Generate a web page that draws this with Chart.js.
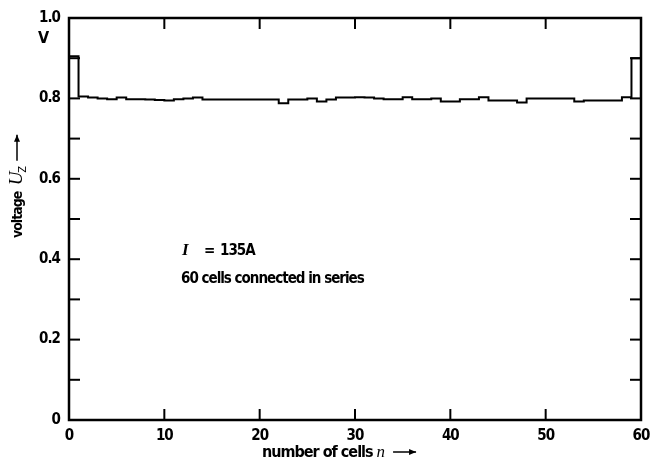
<!DOCTYPE html>
<html><head><meta charset="utf-8">
<script src="https://cdn.jsdelivr.net/npm/chart.js@4/dist/chart.umd.min.js"></script>
<style>html,body{margin:0;padding:0;background:#fff}</style>
</head><body>
<canvas id="c" width="650" height="462"></canvas>
<script>
// ---- data ----
const cellIndex = [0,1,2,3,4,5,6,7,8,9,10,11,12,13,14,15,16,17,18,19,20,21,22,23,24,25,26,27,28,29,
                   30,31,32,33,34,35,36,37,38,39,40,41,42,43,44,45,46,47,48,49,50,51,52,53,54,55,56,57,58,59];
const cellVoltage = [0.905,0.805,0.802,0.800,0.798,0.802,0.798,0.798,0.797,0.796,
                     0.795,0.798,0.800,0.802,0.797,0.797,0.797,0.797,0.797,0.797,
                     0.797,0.797,0.788,0.797,0.797,0.800,0.792,0.797,0.802,0.802,
                     0.803,0.802,0.800,0.798,0.798,0.803,0.798,0.798,0.800,0.792,
                     0.792,0.798,0.798,0.803,0.795,0.795,0.795,0.790,0.800,0.800,
                     0.800,0.800,0.800,0.792,0.795,0.795,0.795,0.795,0.803,0.900];
const xTickValues = [0,10,20,30,40,50,60];
const yTickLabels = ['0','','0.2','','0.4','','0.6','','0.8','','1.0'];
const yUnit = 'V';
const currentLabel = ['I', '=', '135A'];
const noteLabel = '60 cells connected in series';
const xTitle = ['number of cells ', 'n'];
const yTitle = ['voltage ', 'U', 'Z'];

const FONT = '"Liberation Sans Narrow", "DejaVu Sans Condensed", "Liberation Sans", sans-serif';
const SPACING = '-1px';

const points = cellIndex.map((n, i) => ({x: n, y: cellVoltage[i]}));
points.push({x: cellIndex[cellIndex.length - 1] + 1, y: cellVoltage[cellVoltage.length - 1]});

function arrow(ctx, x1, y1, x2, y2) {
  ctx.beginPath(); ctx.moveTo(x1, y1); ctx.lineTo(x2, y2); ctx.stroke();
  const a = Math.atan2(y2 - y1, x2 - x1), L = 7, W = 3;
  ctx.beginPath();
  ctx.moveTo(x2, y2);
  ctx.lineTo(x2 - L*Math.cos(a) + W*Math.sin(a), y2 - L*Math.sin(a) - W*Math.cos(a));
  ctx.lineTo(x2 - L*Math.cos(a) - W*Math.sin(a), y2 - L*Math.sin(a) + W*Math.cos(a));
  ctx.closePath(); ctx.fill();
}

const spacing = {
  id: 'spacing',
  beforeInit(chart) { chart.ctx.letterSpacing = SPACING; },
  beforeUpdate(chart) { chart.ctx.letterSpacing = SPACING; },
  beforeDraw(chart) { chart.ctx.letterSpacing = SPACING; }
};

const decor = {
  id: 'decor',
  afterDraw(chart) {
    const {ctx, chartArea: a, scales: {x, y}} = chart;
    ctx.save();
    ctx.letterSpacing = SPACING;
    ctx.strokeStyle = '#000'; ctx.fillStyle = '#000';
    ctx.lineWidth = 2.5;
    ctx.strokeRect(a.left, a.top, a.right - a.left, a.bottom - a.top);
    ctx.lineWidth = 2;
    const T = 11;
    // inward ticks
    xTickValues.forEach(v => {
      if (v === x.min || v === x.max) return;
      const px = x.getPixelForValue(v);
      ctx.beginPath(); ctx.moveTo(px, a.bottom); ctx.lineTo(px, a.bottom - T); ctx.stroke();
      ctx.beginPath(); ctx.moveTo(px, a.top); ctx.lineTo(px, a.top + T); ctx.stroke();
    });
    yTickLabels.forEach((lab, i) => {
      const v = i / 10;
      if (i === 0 || i === yTickLabels.length - 1) return;
      const py = y.getPixelForValue(v);
      ctx.beginPath(); ctx.moveTo(a.left, py); ctx.lineTo(a.left + T, py); ctx.stroke();
      ctx.beginPath(); ctx.moveTo(a.right, py); ctx.lineTo(a.right - T, py); ctx.stroke();
    });
    // unit
    ctx.font = 'bold 16px ' + FONT;
    ctx.textAlign = 'center'; ctx.textBaseline = 'alphabetic';
    ctx.fillText(yUnit, 43, 43);
    // annotation
    ctx.textAlign = 'left';
    ctx.font = 'italic bold 17px "Liberation Serif", serif';
    ctx.fillText(currentLabel[0], 182, 255);
    ctx.font = 'bold 15px ' + FONT;
    ctx.fillText(currentLabel[1], 204, 255);
    ctx.fillText(currentLabel[2], 220, 255);
    ctx.fillText(noteLabel, 181, 283);
    // x title
    ctx.font = 'bold 16px ' + FONT;
    let tx = 262;
    ctx.fillText(xTitle[0], tx, 457);
    tx += ctx.measureText(xTitle[0]).width;
    ctx.font = 'italic 17px "Liberation Serif", serif';
    ctx.fillText(xTitle[1], tx, 457);
    tx += ctx.measureText(xTitle[1]).width;
    ctx.lineWidth = 1.5;
    arrow(ctx, tx + 9, 452, tx + 32, 452);
    // y title (rotated)
    ctx.save();
    ctx.translate(22, 238);
    ctx.rotate(-Math.PI / 2);
    ctx.font = 'bold 14px ' + FONT;
    let ty = 0;
    ctx.fillText(yTitle[0], ty, 0);
    ty += ctx.measureText(yTitle[0]).width + 3;
    ctx.font = 'italic 19px "Liberation Serif", serif';
    ctx.fillText(yTitle[1], ty, 0);
    ty += ctx.measureText(yTitle[1]).width;
    ctx.font = '11px ' + FONT;
    ctx.fillText(yTitle[2], ty, 4);
    ty += ctx.measureText(yTitle[2]).width;
    arrow(ctx, ty + 6, -5, ty + 32, -5);
    ctx.restore();
    ctx.restore();
  }
};

new Chart(document.getElementById('c'), {
  type: 'line',
  data: {
    datasets: [{
      data: points,
      stepped: true,
      borderColor: '#000',
      borderWidth: 2,
      pointRadius: 0,
      fill: false
    }]
  },
  options: {
    responsive: false,
    animation: false,
    devicePixelRatio: 1,
    layout: {padding: {top: 12, right: 0, left: 0, bottom: 0}},
    plugins: {legend: {display: false}, tooltip: {enabled: false}},
    scales: {
      x: {
        type: 'linear', min: 0, max: 60,
        grid: {display: false, drawTicks: false},
        border: {display: false},
        afterBuildTicks: s => { s.ticks = xTickValues.map(v => ({value: v})); },
        ticks: {color: '#000', padding: 7, maxRotation: 0,
                font: {family: FONT, size: 15, weight: 'bold'},
                callback: v => String(v)},
        afterFit: s => { s.height = 42; s.paddingRight = 9; }
      },
      y: {
        min: 0, max: 1,
        grid: {display: false, drawTicks: false},
        border: {display: false},
        ticks: {stepSize: 0.1, color: '#000', padding: 9,
                font: {family: FONT, size: 15, weight: 'bold'},
                callback: v => yTickLabels[Math.round(v * 10)]},
        afterFit: s => { s.width = 69; }
      }
    }
  },
  plugins: [spacing, decor]
});
</script>
</body></html>
